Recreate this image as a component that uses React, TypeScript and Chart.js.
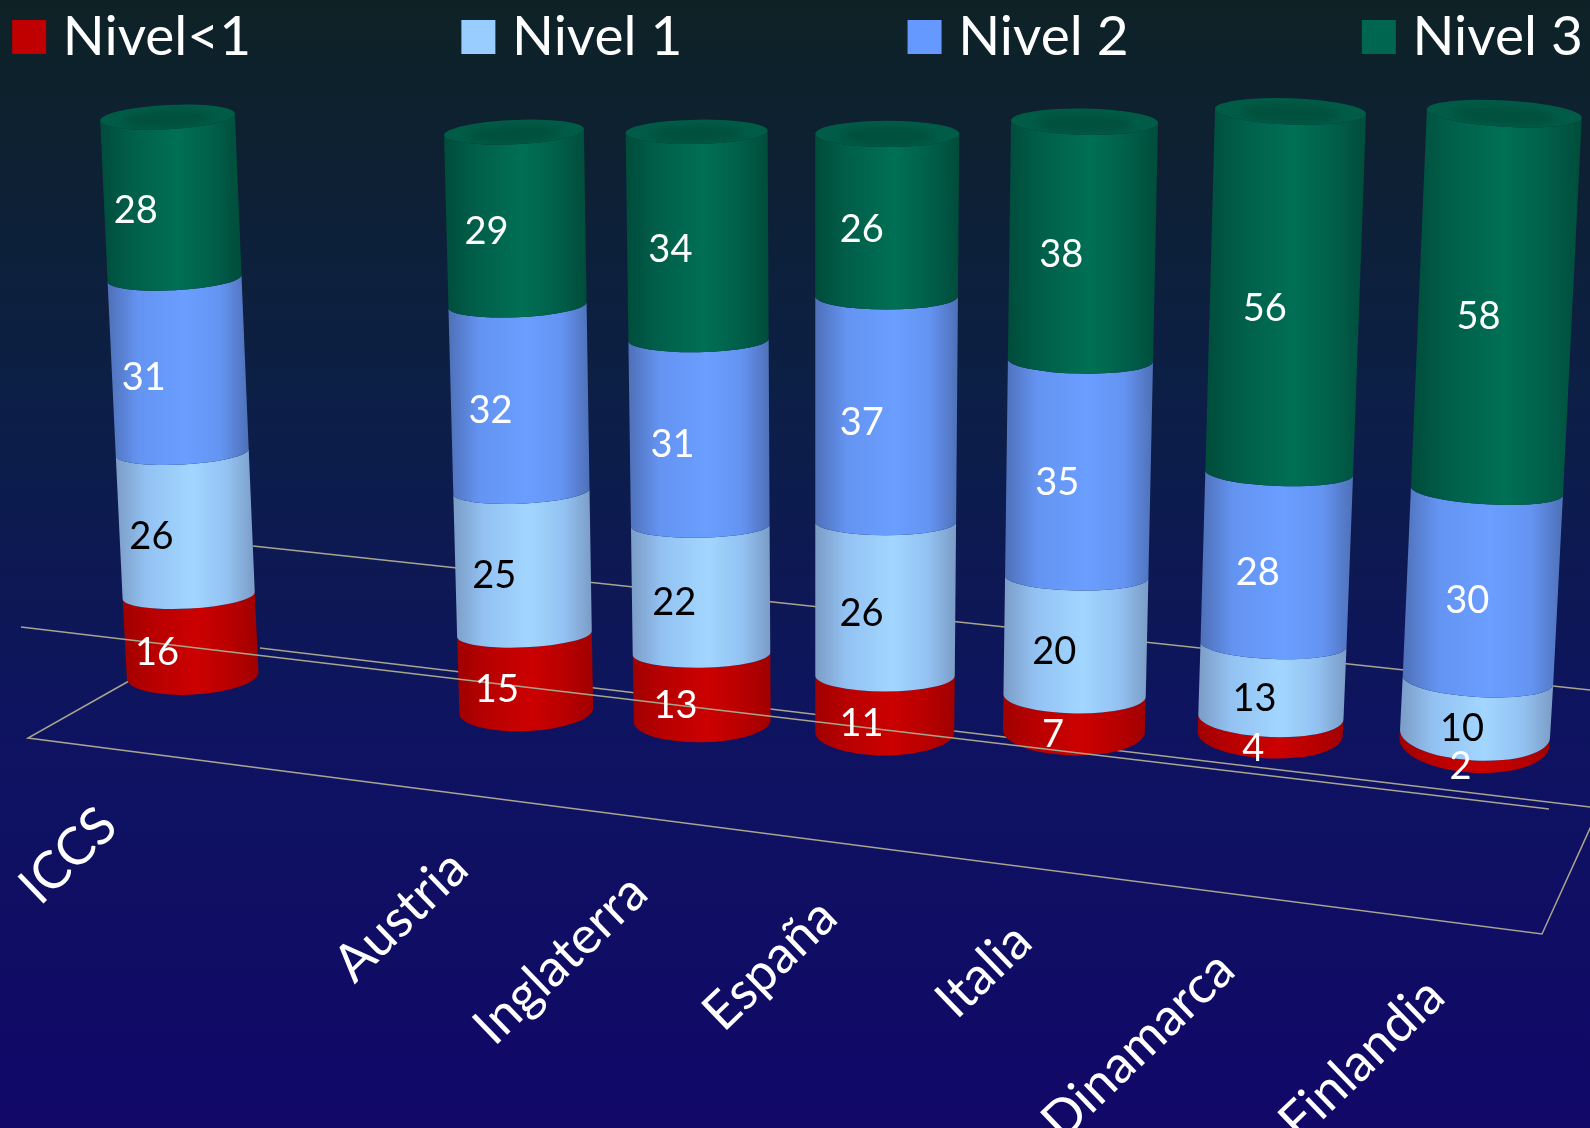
import React, { useEffect, useRef } from "react";
import Chart from "chart.js/auto";

const categories = ["ICCS", "Austria", "Inglaterra", "España", "Italia", "Dinamarca", "Finlandia"];
const nivelMenor1 = [16, 15, 13, 11, 7, 4, 2];
const nivel1 = [26, 25, 22, 26, 20, 13, 10];
const nivel2 = [31, 32, 31, 37, 35, 28, 30];
const nivel3 = [28, 29, 34, 26, 38, 56, 58];
const seriesNames = ["Nivel<1", "Nivel 1", "Nivel 2", "Nivel 3"];

// ---- styles and 3D layout (not data) ----
const W = 1590, H = 1128, K = 1590 / 1568;
const FONT = "Lato, 'Open Sans', sans-serif";
const solid = ["#c00000", "#99ccff", "#6699ff", "#006650"];
const shades = [
  ["#a00000", "#b80000", "#cc0000"],
  ["#7b9cc6", "#93c2f2", "#a2d6ff"],
  ["#4f70b8", "#6494f2", "#6a9eff"],
  ["#004c3b", "#005f4a", "#007055"],
];
const labelColors = ["#ffffff", "#000000", "#ffffff", "#ffffff"];
// per-bar projection, in coordinates of the 1568-wide view
const leftBottom = [125, 453, 625, 804, 989, 1181, 1380];
const rightBottom = [255, 585, 760, 941, 1129, 1324, 1528];
const leftTop = [99, 438, 617, 804, 997, 1198, 1407];
const rightTop = [232, 576, 757, 946, 1142, 1347, 1560];
const front0 = [685, 721, 732, 745, 745, 748, 762];
const front100 = [133, 148, 142, 145, 133, 129, 125];
const sag = [5, 5, 5, 5, 3, 10, 3];
const ry0 = [19, 20, 21, 23, 24, 24, 30];
const ry1 = [12, 12, 12, 13, 13, 13, 13];
const tiltDeg = [-3, -2.5, -1, 0, 1, 2, 3.2];
const labelShift0 = [-33, -28, -26, -23, -21, -17, -14];
const labelShift1 = [-35, -29, -27, -25, -21, -21, -18];
// axis-label anchors (right end of text's centre line)
const axisLabelX = [107, 453, 630, 817, 1009, 1209, 1416];
const axisLabelY = [806, 848, 872, 896, 920, 948, 974];
const legendBoxX = [12, 455, 895, 1343];
const legendTextX = [62, 505, 945, 1393];

const lerp = (a: number, b: number, t: number) => a + (b - a) * t;

function geom(i: number, t: number) {
  const l = lerp(leftBottom[i], leftTop[i], t) * K;
  const r = lerp(rightBottom[i], rightTop[i], t) * K;
  const ry = (ry1[i] + (ry0[i] - ry1[i]) * Math.exp(-t / 0.08)) * K;
  const bow = sag[i] * Math.sqrt(Math.max(0, Math.sin(Math.PI * Math.min(t, 1))));
  const front = (lerp(front0[i], front100[i], t) + bow) * K;
  return { cx: (l + r) / 2, w: (r - l) / 2, ry, front, cy: front - ry, rot: (tiltDeg[i] * Math.PI) / 180 };
}

function drawSegment(ctx: CanvasRenderingContext2D, i: number, tA: number, tB: number, s: number) {
  const a = geom(i, tA), b = geom(i, tB);
  const x0 = Math.min(a.cx - a.w, b.cx - b.w), x1 = Math.max(a.cx + a.w, b.cx + b.w);
  const g = ctx.createLinearGradient(x0, 0, x1, 0);
  const [edge, mid, bright] = shades[s];
  g.addColorStop(0, edge);
  g.addColorStop(0.22, mid);
  g.addColorStop(0.55, bright);
  g.addColorStop(0.8, mid);
  g.addColorStop(1, edge);
  ctx.beginPath();
  ctx.ellipse(b.cx, b.cy, b.w, b.ry, b.rot, Math.PI, 0, true);
  ctx.ellipse(a.cx, a.cy, a.w, a.ry, a.rot, 0, Math.PI, false);
  ctx.closePath();
  ctx.fillStyle = g;
  ctx.fill();
}

function drawCap(ctx: CanvasRenderingContext2D, i: number, t: number) {
  const c = geom(i, t);
  ctx.save();
  ctx.beginPath();
  ctx.ellipse(c.cx, c.cy, c.w, c.ry, c.rot, 0, Math.PI * 2);
  ctx.fillStyle = "#005c47";
  ctx.fill();
  ctx.clip();
  ctx.filter = "blur(4px)";
  ctx.beginPath();
  ctx.ellipse(c.cx, c.cy + 2, c.w * 0.66, c.ry * 0.7, c.rot, 0, Math.PI * 2);
  ctx.fillStyle = "#00503d";
  ctx.fill();
  ctx.restore();
}

function line(ctx: CanvasRenderingContext2D, pts: number[][]) {
  ctx.beginPath();
  pts.forEach(([x, y], n) => (n ? ctx.lineTo(x, y) : ctx.moveTo(x, y)));
  ctx.stroke();
}

const scene = {
  id: "scene",
  beforeDraw(chart: any) {
    const ctx = chart.ctx as CanvasRenderingContext2D;
    const g = ctx.createLinearGradient(0, 0, 0, H);
    g.addColorStop(0, "#0e2226");
    g.addColorStop(0.35, "#0c1f46");
    g.addColorStop(0.65, "#0e1360");
    g.addColorStop(1, "#110868");
    ctx.fillStyle = g;
    ctx.fillRect(0, 0, W, H);
  },
  beforeDatasetsDraw(chart: any) {
    const ctx = chart.ctx as CanvasRenderingContext2D;
    const y = chart.scales.y;
    const p0 = y.getPixelForValue(0), p100 = y.getPixelForValue(100);
    const tOf = (px: number) => (p0 - px) / (p0 - p100);

    ctx.save();
    ctx.strokeStyle = "#a8a48e";
    ctx.lineWidth = 1.5;
    line(ctx, [[253, 546], [1590, 690]]);
    line(ctx, [[260, 648], [1590, 807]]);
    line(ctx, [[129, 681], [28, 738], [1542, 934], [1592, 824]]);

    const n = categories.length;
    const tops = new Array(n).fill(0);
    chart.data.datasets.forEach((_: any, s: number) => {
      chart.getDatasetMeta(s).data.forEach((el: any, i: number) => {
        const tA = tOf(el.base), tB = tOf(el.y);
        drawSegment(ctx, i, tA, tB, s);
        tops[i] = Math.max(tops[i], tB);
      });
    });
    tops.forEach((t, i) => drawCap(ctx, i, t));

    line(ctx, [[21, 627], [1549, 809]]);

    ctx.textAlign = "center";
    ctx.textBaseline = "middle";
    ctx.font = `38px ${FONT}`;
    chart.data.datasets.forEach((ds: any, s: number) => {
      ctx.fillStyle = labelColors[s];
      chart.getDatasetMeta(s).data.forEach((el: any, i: number) => {
        const t = (tOf(el.base) + tOf(el.y)) / 2;
        const c = geom(i, t);
        ctx.fillText(String(ds.data[i]), c.cx + lerp(labelShift0[i], labelShift1[i], t) * K, c.front);
      });
    });

    // legend
    ctx.textAlign = "left";
    ctx.font = `55px ${FONT}`;
    chart.data.datasets.forEach((ds: any, s: number) => {
      ctx.fillStyle = solid[s];
      ctx.fillRect(legendBoxX[s] * K, 20, 34, 34);
      ctx.fillStyle = "#ffffff";
      ctx.fillText(ds.label, legendTextX[s] * K, 37);
    });

    // category axis labels
    ctx.textAlign = "right";
    ctx.font = `52px ${FONT}`;
    ctx.fillStyle = "#ffffff";
    chart.scales.x.getLabels().forEach((lab: string, i: number) => {
      ctx.save();
      ctx.translate(axisLabelX[i] * K, axisLabelY[i] * K);
      ctx.rotate((-44 * Math.PI) / 180);
      ctx.fillText(lab, 0, 0);
      ctx.restore();
    });
    ctx.restore();
    return false;
  },
};

export default function App() {
  const ref = useRef<HTMLCanvasElement | null>(null);
  useEffect(() => {
    const chart = new Chart(ref.current as HTMLCanvasElement, {
      type: "bar",
      data: {
        labels: categories,
        datasets: [nivelMenor1, nivel1, nivel2, nivel3].map((d, s) => ({
          label: seriesNames[s],
          data: d,
          backgroundColor: solid[s],
        })),
      },
      options: {
        animation: false,
        responsive: false,
        plugins: { legend: { display: false }, tooltip: { enabled: false } },
        scales: {
          x: { stacked: true, display: false },
          y: { stacked: true, display: false, min: 0, max: 110 },
        },
      },
      plugins: [scene],
    } as any);
    return () => chart.destroy();
  }, []);
  return (
    <div style={{ position: "fixed", left: 0, top: 0, width: W, height: H, overflow: "hidden" }}>
      <canvas ref={ref} width={W} height={H} style={{ display: "block" }} />
    </div>
  );
}
